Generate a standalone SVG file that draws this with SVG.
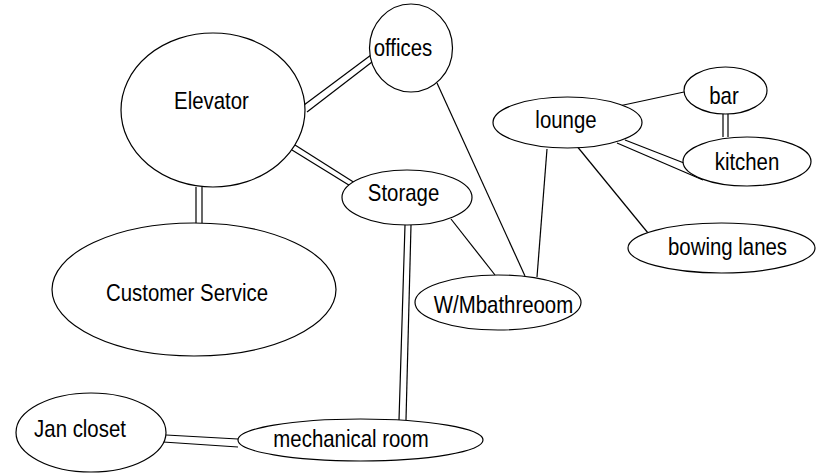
<svg xmlns="http://www.w3.org/2000/svg" width="827" height="474" viewBox="0 0 827 474">
<style>
.n ellipse{fill:#fff;stroke:#000;stroke-width:1.2}
.n text{font-family:"Liberation Sans",Arial,sans-serif;font-size:24px;text-anchor:middle;fill:#000}
.e line{stroke:#000;stroke-width:1.2;fill:none}
</style>
<rect width="827" height="474" fill="#fff"/>
<g id="connectors" class="e">
<line x1="304" y1="105" x2="371" y2="55"/>
<line x1="307" y1="112" x2="372" y2="62"/>
<line x1="295" y1="145" x2="355" y2="183"/>
<line x1="292" y1="150" x2="352" y2="187"/>
<line x1="196" y1="187" x2="196" y2="223"/>
<line x1="202" y1="187" x2="202" y2="223"/>
<line x1="437" y1="83" x2="525" y2="276"/>
<line x1="547" y1="149" x2="537" y2="277"/>
<line x1="451" y1="219" x2="495" y2="275"/>
<line x1="405" y1="225" x2="399" y2="420"/>
<line x1="411" y1="225" x2="406" y2="420"/>
<line x1="166" y1="435" x2="238" y2="439"/>
<line x1="163" y1="442" x2="238" y2="447"/>
<line x1="619" y1="106" x2="684" y2="92"/>
<line x1="723" y1="114" x2="723" y2="137"/>
<line x1="728" y1="114" x2="728" y2="137"/>
<line x1="625" y1="140" x2="684" y2="163"/>
<line x1="617" y1="143" x2="703" y2="180"/>
<line x1="576" y1="145" x2="648" y2="233"/>
</g>
<g id="elevator" class="n"><ellipse cx="213" cy="110" rx="92" ry="77"/><text transform="translate(211.5,109) scale(0.85,1)">Elevator</text></g>
<g id="offices" class="n"><ellipse cx="411" cy="48" rx="41.5" ry="44"/><text transform="translate(403,56) scale(0.85,1)">offices</text></g>
<g id="customer-service" class="n"><ellipse cx="194" cy="289.5" rx="142" ry="66.5"/><text transform="translate(187,301) scale(0.85,1)">Customer Service</text></g>
<g id="storage" class="n"><ellipse cx="407" cy="197.5" rx="65" ry="27.5"/><text transform="translate(403.5,201) scale(0.85,1)">Storage</text></g>
<g id="wm-bathroom" class="n"><ellipse cx="498" cy="302.5" rx="83" ry="27.5"/><text transform="translate(503.5,313) scale(0.85,1)">W/Mbathreoom</text></g>
<g id="lounge" class="n"><ellipse cx="567.5" cy="122.5" rx="74.5" ry="25.5"/><text transform="translate(566,128) scale(0.85,1)">lounge</text></g>
<g id="bar" class="n"><ellipse cx="725.5" cy="90.5" rx="41.5" ry="23.5"/><text transform="translate(724,104) scale(0.85,1)">bar</text></g>
<g id="kitchen" class="n"><ellipse cx="747" cy="161.5" rx="64" ry="24.5"/><text transform="translate(747,170) scale(0.85,1)">kitchen</text></g>
<g id="bowing-lanes" class="n"><ellipse cx="721.5" cy="248" rx="93.5" ry="25"/><text transform="translate(727.5,255) scale(0.85,1)">bowing lanes</text></g>
<g id="jan-closet" class="n"><ellipse cx="91" cy="432.5" rx="75" ry="39.5"/><text transform="translate(80,437) scale(0.85,1)">Jan closet</text></g>
<g id="mechanical-room" class="n"><ellipse cx="360.5" cy="440" rx="122.5" ry="21"/><text transform="translate(351,447) scale(0.85,1)">mechanical room</text></g>
</svg>
